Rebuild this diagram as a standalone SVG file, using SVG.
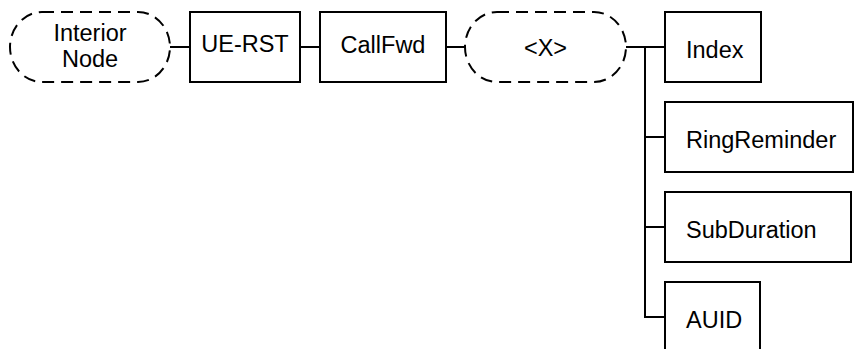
<svg xmlns="http://www.w3.org/2000/svg" width="854" height="349" viewBox="0 0 854 349">
  <style>
    .box { fill: #ffffff; stroke: #000000; stroke-width: 2; }
    .soft { fill: #ffffff; stroke: #000000; stroke-width: 2; stroke-dasharray: 12 7; }
    .wire { fill: none; stroke: #000000; stroke-width: 2; }
    text { font-family: "Liberation Sans", Arial, sans-serif; font-size: 23.5px; fill: #000000; }
    .mid { text-anchor: middle; }
  </style>
  <rect width="854" height="349" fill="#ffffff"/>

  <!-- tree links -->
  <g id="connectors">
    <path class="wire" d="M170 47 H190"/>
    <path class="wire" d="M300 47 H320"/>
    <path class="wire" d="M446 47 H465"/>
    <path class="wire" d="M626 47 H665"/>
    <path class="wire" d="M645 47 V317 H665"/>
    <path class="wire" d="M645 137 H665"/>
    <path class="wire" d="M645 227 H665"/>
  </g>

  <g id="interior-node">
    <rect class="soft" x="10" y="12" width="160" height="70" rx="32" ry="35"/>
    <text class="mid" x="90" y="41">Interior</text>
    <text class="mid" x="90" y="67">Node</text>
  </g>

  <g id="ue-rst">
    <rect class="box" x="190" y="12" width="110" height="70"/>
    <text class="mid" x="245" y="52">UE-RST</text>
  </g>

  <g id="callfwd">
    <rect class="box" x="320" y="12" width="126" height="70"/>
    <text class="mid" x="383" y="52.5">CallFwd</text>
  </g>

  <g id="x-node">
    <rect class="soft" x="465" y="12" width="161" height="70" rx="32" ry="35"/>
    <text class="mid" x="545.5" y="55.5">&lt;X&gt;</text>
  </g>

  <g id="index">
    <rect class="box" x="665" y="12" width="96" height="70"/>
    <text x="686" y="58">Index</text>
  </g>

  <g id="ring-reminder">
    <rect class="box" x="665" y="102" width="188" height="70"/>
    <text x="686" y="148">RingReminder</text>
  </g>

  <g id="sub-duration">
    <rect class="box" x="665" y="192" width="186" height="70"/>
    <text x="686" y="238">SubDuration</text>
  </g>

  <g id="auid">
    <rect class="box" x="665" y="282" width="95" height="70"/>
    <text x="686" y="328">AUID</text>
  </g>
</svg>
